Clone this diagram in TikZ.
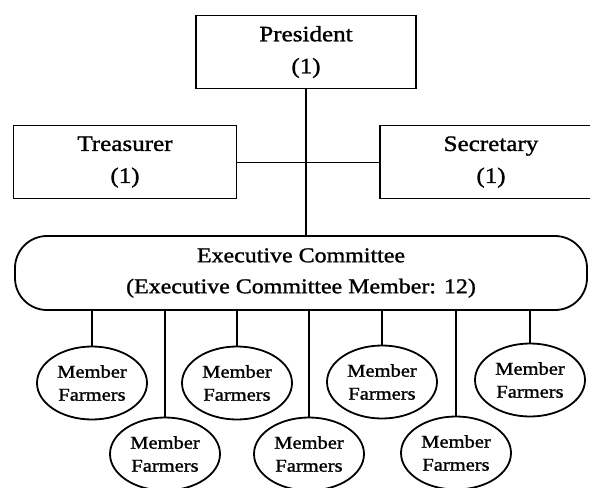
\documentclass[tikz,border=0pt]{standalone}
\usepackage{fontspec}
\setmainfont{Liberation Serif}[FakeStretch=1.14,FakeBold=1.3]
\usetikzlibrary{shapes.geometric}

\begin{document}
\begin{tikzpicture}[x=1pt,y=-1pt,
    office/.style={draw,line width=1.8pt,inner sep=0pt,minimum height=73pt,align=center,font=\fontsize{22}{32}\selectfont},
    committee/.style={draw,line width=1.8pt,rounded corners=32pt,inner sep=0pt,minimum width=572pt,minimum height=74pt,align=center,font=\fontsize{21}{31}\selectfont},
    farmers/.style={draw,ellipse,line width=1.8pt,inner sep=0pt,minimum width=110pt,minimum height=73pt,align=center,font=\fontsize{18}{23}\selectfont}]
  \useasboundingbox (0,0) rectangle (590,488);
  \node[office,minimum width=220pt] (pres) at (306,52)  {President\\(1)};
  \node[office,minimum width=223pt] (tres) at (125,162) {Treasurer\\(1)};
  \node[office,minimum width=222pt] (secr) at (491,162) {Secretary\\(1)};
  \node[committee] (exec) at (301,273) {Executive Committee\\(Executive Committee Member: 12)};
  \node[farmers] (m1) at (92,383)  {Member\\Farmers}; % top row
  \node[farmers] (m3) at (237,383) {Member\\Farmers};
  \node[farmers] (m5) at (382,382) {Member\\Farmers};
  \node[farmers] (m7) at (530,380) {Member\\Farmers};
  \node[farmers] (m2) at (165,454) {Member\\Farmers}; % bottom row
  \node[farmers] (m4) at (309,454) {Member\\Farmers};
  \node[farmers] (m6) at (456,453) {Member\\Farmers};
  \path[line width=1pt]
    (tres) edge (secr);
  \path[line width=2pt]
    (pres.south) edge (pres.south |- exec.north)
    (exec.south -| m1) edge (m1)
    (exec.south -| m2) edge (m2)
    (exec.south -| m3) edge (m3)
    (exec.south -| m4) edge (m4)
    (exec.south -| m5) edge (m5)
    (exec.south -| m6) edge (m6)
    (exec.south -| m7) edge (m7);
\end{tikzpicture}
\end{document}
